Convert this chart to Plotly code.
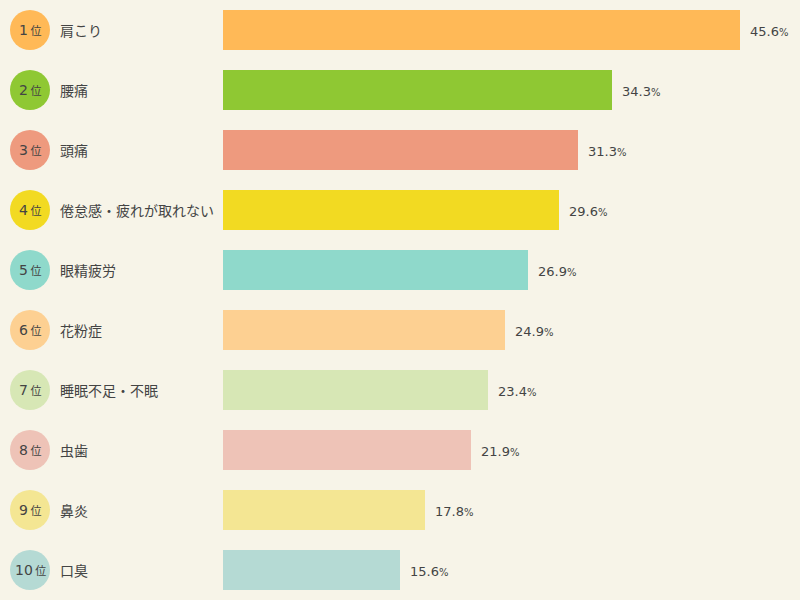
import plotly.graph_objects as go

ranks = [1, 2, 3, 4, 5, 6, 7, 8, 9, 10]
labels = ["肩こり", "腰痛", "頭痛", "倦怠感・疲れが取れない", "眼精疲労",
          "花粉症", "睡眠不足・不眠", "虫歯", "鼻炎", "口臭"]
values = [45.6, 34.3, 31.3, 29.6, 26.9, 24.9, 23.4, 21.9, 17.8, 15.6]
colors = ["#ffb957", "#8fc833", "#ee9a7e", "#f2da22", "#8fd9cb",
          "#fdd092", "#d7e7b5", "#eec3b7", "#f4e693", "#b5dad4"]

W, H = 800, 600
bar_left_px = 223
px_per_unit = (740 - bar_left_px) / 45.6
x_min = -bar_left_px / px_per_unit
x_max = (W - bar_left_px) / px_per_unit
circle_x = -(bar_left_px - 30) / px_per_unit
label_x = -(bar_left_px - 60) / px_per_unit

ypos = list(range(len(labels)))
txt_color = "#444444"
jp_font = "Noto Sans CJK JP"
num_font = "DejaVu Sans"

fig = go.Figure()
fig.add_trace(go.Bar(
    x=values, y=ypos, orientation="h", width=40 / 60,
    marker=dict(color=colors, line=dict(width=0)),
    hoverinfo="skip", showlegend=False,
))
fig.add_trace(go.Scatter(
    x=[circle_x] * len(ranks), y=ypos, mode="markers",
    marker=dict(size=40, color=colors, line=dict(width=0)),
    hoverinfo="skip", showlegend=False,
))

annotations = []
for lab, y in zip(labels, ypos):
    annotations.append(dict(
        x=label_x, y=y, xref="x", yref="y", showarrow=False,
        text=lab, font=dict(family=jp_font, size=14, color=txt_color),
        xanchor="left", yanchor="middle", xshift=-2, yshift=0,
    ))
for r, y in zip(ranks, ypos):
    annotations.append(dict(
        x=circle_x, y=y, xref="x", yref="y", showarrow=False,
        text=f"{r}<span style='font-family:{jp_font};font-size:11px'> 位</span>",
        font=dict(family=num_font, size=14, color=txt_color),
        xanchor="center", yanchor="middle", yshift=0,
    ))
for v, y in zip(values, ypos):
    annotations.append(dict(
        x=v, y=y, xref="x", yref="y", showarrow=False,
        text=f"{v:.1f}<span style='font-size:10px'>%</span>",
        font=dict(family=num_font, size=13, color=txt_color),
        xanchor="left", yanchor="middle", xshift=8, yshift=-1,
    ))

fig.update_layout(
    width=W, height=H,
    margin=dict(l=0, r=0, t=0, b=0),
    paper_bgcolor="#f7f4e8", plot_bgcolor="#f7f4e8",
    xaxis=dict(range=[x_min, x_max], visible=False, fixedrange=True),
    yaxis=dict(range=[len(labels) - 0.5, -0.5], visible=False, fixedrange=True),
    annotations=annotations,
    bargap=0,
    hovermode=False,
)

fig.write_html("out.html", config={"displayModeBar": False},
               post_script="document.body.style.margin='0';document.body.style.background='#f7f4e8';")
